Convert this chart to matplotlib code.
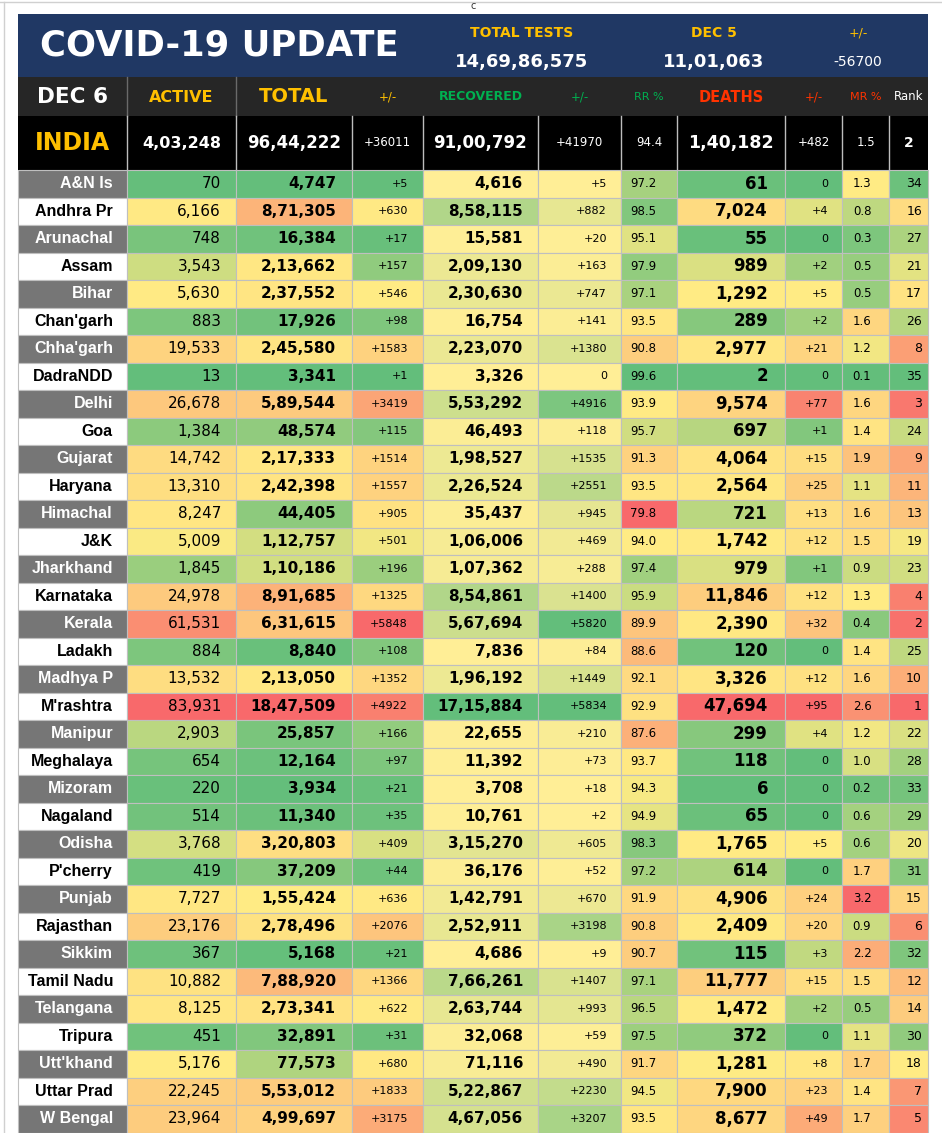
import numpy as np
import matplotlib
matplotlib.use("Agg")
import matplotlib.pyplot as plt
from matplotlib.patches import Rectangle

# data
states = ["A&N Is", "Andhra Pr", "Arunachal", "Assam", "Bihar", "Chan'garh", "Chha'garh",
          "DadraNDD", "Delhi", "Goa", "Gujarat", "Haryana", "Himachal", "J&K", "Jharkhand",
          "Karnataka", "Kerala", "Ladakh", "Madhya P", "M'rashtra", "Manipur", "Meghalaya",
          "Mizoram", "Nagaland", "Odisha", "P'cherry", "Punjab", "Rajasthan", "Sikkim",
          "Tamil Nadu", "Telangana", "Tripura", "Utt'khand", "Uttar Prad", "W Bengal"]
active = [70, 6166, 748, 3543, 5630, 883, 19533, 13, 26678, 1384, 14742, 13310, 8247, 5009,
          1845, 24978, 61531, 884, 13532, 83931, 2903, 654, 220, 514, 3768, 419, 7727, 23176,
          367, 10882, 8125, 451, 5176, 22245, 23964]
total = [4747, 871305, 16384, 213662, 237552, 17926, 245580, 3341, 589544, 48574, 217333,
         242398, 44405, 112757, 110186, 891685, 631615, 8840, 213050, 1847509, 25857, 12164,
         3934, 11340, 320803, 37209, 155424, 278496, 5168, 788920, 273341, 32891, 77573,
         553012, 499697]
total_chg = [5, 630, 17, 157, 546, 98, 1583, 1, 3419, 115, 1514, 1557, 905, 501, 196, 1325,
             5848, 108, 1352, 4922, 166, 97, 21, 35, 409, 44, 636, 2076, 21, 1366, 622, 31,
             680, 1833, 3175]
recovered = [4616, 858115, 15581, 209130, 230630, 16754, 223070, 3326, 553292, 46493, 198527,
             226524, 35437, 106006, 107362, 854861, 567694, 7836, 196192, 1715884, 22655,
             11392, 3708, 10761, 315270, 36176, 142791, 252911, 4686, 766261, 263744, 32068,
             71116, 522867, 467056]
rec_chg = [5, 882, 20, 163, 747, 141, 1380, 0, 4916, 118, 1535, 2551, 945, 469, 288, 1400,
           5820, 84, 1449, 5834, 210, 73, 18, 2, 605, 52, 670, 3198, 9, 1407, 993, 59, 490,
           2230, 3207]
rr_pct = [97.2, 98.5, 95.1, 97.9, 97.1, 93.5, 90.8, 99.6, 93.9, 95.7, 91.3, 93.5, 79.8, 94.0,
          97.4, 95.9, 89.9, 88.6, 92.1, 92.9, 87.6, 93.7, 94.3, 94.9, 98.3, 97.2, 91.9, 90.8,
          90.7, 97.1, 96.5, 97.5, 91.7, 94.5, 93.5]
deaths = [61, 7024, 55, 989, 1292, 289, 2977, 2, 9574, 697, 4064, 2564, 721, 1742, 979, 11846,
          2390, 120, 3326, 47694, 299, 118, 6, 65, 1765, 614, 4906, 2409, 115, 11777, 1472,
          372, 1281, 7900, 8677]
death_chg = [0, 4, 0, 2, 5, 2, 21, 0, 77, 1, 15, 25, 13, 12, 1, 12, 32, 0, 12, 95, 4, 0, 0, 0,
             5, 0, 24, 20, 3, 15, 2, 0, 8, 23, 49]
mr_pct = [1.3, 0.8, 0.3, 0.5, 0.5, 1.6, 1.2, 0.1, 1.6, 1.4, 1.9, 1.1, 1.6, 1.5, 0.9, 1.3, 0.4,
          1.4, 1.6, 2.6, 1.2, 1.0, 0.2, 0.6, 0.6, 1.7, 3.2, 0.9, 2.2, 1.5, 0.5, 1.1, 1.7, 1.4,
          1.7]
rank = [34, 16, 27, 21, 17, 26, 8, 35, 3, 24, 9, 11, 13, 19, 23, 4, 2, 25, 10, 1, 22, 28, 33,
        29, 20, 31, 15, 6, 32, 12, 14, 30, 18, 7, 5]

india = {"active": 403248, "total": 9644222, "total_chg": 36011, "recovered": 9100792,
         "rec_chg": 41970, "rr": 94.4, "deaths": 140182, "death_chg": 482, "mr": 1.5, "rank": 2}
total_tests = 146986575
dec5_tests = 1101063
tests_chg = -56700

GREEN = np.array([99, 190, 123]) / 255
YELLOW = np.array([255, 235, 132]) / 255
PALE = np.array([255, 238, 150]) / 255
RED = np.array([248, 105, 107]) / 255
NAVY = "#203864"
GOLD = "#FFC000"


def fmt_in(n):
    # indian digit grouping: 18,47,509
    s = str(int(n))
    if len(s) <= 3:
        return s
    head, tail = s[:-3], s[-3:]
    parts = []
    while len(head) > 2:
        parts.insert(0, head[-2:])
        head = head[:-2]
    if head:
        parts.insert(0, head)
    return ",".join(parts) + "," + tail


def signed(n):
    return "+%d" % n if n > 0 else str(n)


def scale3(vals, low, mid, high):
    v = np.asarray(vals, float)
    lo, md, hi = v.min(), np.percentile(v, 50), v.max()
    cols = []
    for x in v:
        if x <= md:
            t = (x - lo) / (md - lo) if md > lo else 0
            cols.append(low + t * (mid - low))
        else:
            t = (x - md) / (hi - md)
            cols.append(mid + t * (high - mid))
    return [tuple(np.clip(c, 0, 1)) for c in cols]


def scale2(vals, low, high):
    v = np.asarray(vals, float)
    t = (v - v.min()) / (v.max() - v.min())
    return [tuple(low + k * (high - low)) for k in t]


# columns: x edges of the table
edges = [18, 127, 236, 352, 423, 538, 621, 677, 785, 842, 889, 928]
body_top = 170
row_h = 27.5

# (text format, values, colours, font size, bold, align, x anchor)
columns = [
    (fmt_in, active, scale3(active, GREEN, YELLOW, RED), 11, False, "right", 221),
    (fmt_in, total, scale3(total, GREEN, YELLOW, RED), 11, True, "right", 336),
    (signed, total_chg, scale3(total_chg, GREEN, YELLOW, RED), 8, False, "right", 408),
    (fmt_in, recovered, scale2(recovered, PALE, GREEN), 11, True, "right", 523),
    (signed, rec_chg, scale2(rec_chg, PALE, GREEN), 8, False, "right", 607),
    (lambda x: "%.1f" % x, rr_pct, scale3(rr_pct, RED, YELLOW, GREEN), 8.5, False, "left", 630),
    (fmt_in, deaths, scale3(deaths, GREEN, YELLOW, RED), 12, True, "right", 768),
    (signed, death_chg, scale3(death_chg, GREEN, YELLOW, RED), 8, False, "right", 828),
    (lambda x: "%.1f" % x, mr_pct, scale3(mr_pct, GREEN, YELLOW, RED), 8.5, False, "center", 862),
    (str, rank, scale3(rank, RED, YELLOW, GREEN), 9, False, "right", 922),
]

plt.rcParams["font.family"] = ["DejaVu Sans"]
fig = plt.figure(figsize=(9.42, 11.33), dpi=100)
ax = fig.add_axes([0, 0, 1, 1])
ax.set_xlim(0, 942)
ax.set_ylim(1133, 0)
ax.axis("off")

# page frame bits
ax.plot([0, 942], [1.5, 1.5], color="#d0d0d0", lw=1)
ax.plot([4, 4], [1.5, 1133], color="#d0d0d0", lw=1)
ax.text(473, 6, "c", fontsize=7, color="#333333", ha="center", va="center")

# navy title block
ax.add_patch(Rectangle((edges[0], 14), edges[-1] - edges[0], 63, color=NAVY, lw=0))
ax.text(40, 46, "COVID-19 UPDATE", fontsize=25.5, fontweight="heavy", color="white",
        ha="left", va="center")
for x, lab, val in [(522, "TOTAL TESTS", fmt_in(total_tests)),
                    (714, "DEC 5", fmt_in(dec5_tests))]:
    ax.text(x, 33, lab, fontsize=10, fontweight="bold", color=GOLD, ha="center", va="center")
    ax.text(x, 62, val, fontsize=13, fontweight="bold", color="white", ha="center", va="center")
ax.text(858, 33, "+/-", fontsize=9, color=GOLD, ha="center", va="center")
ax.text(858, 62, str(tests_chg), fontsize=10, color="white", ha="center", va="center")

# column header row
ax.add_patch(Rectangle((edges[0], 77), edges[-1] - edges[0], 39, color="#262626", lw=0))
for x in edges[1:3]:
    ax.plot([x, x], [77, 116], color="#6a6a6a", lw=1)
heads = [("DEC 6", "white", 15.5, True), ("ACTIVE", GOLD, 11.5, True), ("TOTAL", GOLD, 14, True),
         ("+/-", GOLD, 8.5, False), ("RECOVERED", "#00B050", 9, True),
         ("+/-", "#00B050", 8.5, False), ("RR %", "#00B050", 8, False),
         ("DEATHS", "#FF3300", 10.5, True), ("+/-", "#FF3300", 8.5, False),
         ("MR %", "#FF3300", 8, False), ("Rank", "white", 8.5, False)]
for i, (lab, col, fs, bold) in enumerate(heads):
    xc = (edges[i] + edges[i + 1]) / 2
    ax.text(xc, 97, lab, fontsize=fs, color=col, fontweight="bold" if bold else "normal",
            ha="center", va="center")

# INDIA row
ax.add_patch(Rectangle((edges[0], 116), edges[-1] - edges[0], 54, color="black", lw=0))
india_txt = [(fmt_in(india["active"]), 11.5, True), (fmt_in(india["total"]), 12, True),
             (signed(india["total_chg"]), 8.5, False), (fmt_in(india["recovered"]), 12, True),
             (signed(india["rec_chg"]), 8.5, False), ("%.1f" % india["rr"], 8.5, False),
             (fmt_in(india["deaths"]), 12.5, True), (signed(india["death_chg"]), 8.5, False),
             ("%.1f" % india["mr"], 8.5, False), (str(india["rank"]), 10, True)]
ax.text((edges[0] + edges[1]) / 2, 143, "INDIA", fontsize=17, fontweight="heavy", color=GOLD,
        ha="center", va="center")
for i, (txt, fs, bold) in enumerate(india_txt):
    xc = (edges[i + 1] + edges[i + 2]) / 2
    ax.text(xc, 143, txt, fontsize=fs, color="white", fontweight="bold" if bold else "normal",
            ha="center", va="center")
for x in edges[1:-1]:
    ax.plot([x, x], [116, 170], color="#bdbdbd", lw=1)

# state rows
for r, name in enumerate(states):
    y0 = body_top + r * row_h
    yc = y0 + row_h / 2
    grey = r % 2 == 0
    ax.add_patch(Rectangle((edges[0], y0), edges[1] - edges[0], row_h,
                           facecolor="#767676" if grey else "white", edgecolor="#bfbfbf", lw=0.8))
    ax.text(edges[1] - 14, yc, name, fontsize=11.5, fontweight="bold",
            family=["Liberation Sans", "DejaVu Sans"],
            color="white" if grey else "black", ha="right", va="center")
    for c, (fmt, vals, cols, fs, bold, align, xa) in enumerate(columns):
        ax.add_patch(Rectangle((edges[c + 1], y0), edges[c + 2] - edges[c + 1], row_h,
                               facecolor=cols[r], edgecolor="#bfbfbf", lw=0.8))
        ax.text(xa, yc, fmt(vals[r]), fontsize=fs, fontweight="bold" if bold else "normal",
                color="black", ha=align, va="center")

fig.savefig("out.png", dpi=100, facecolor="white")
